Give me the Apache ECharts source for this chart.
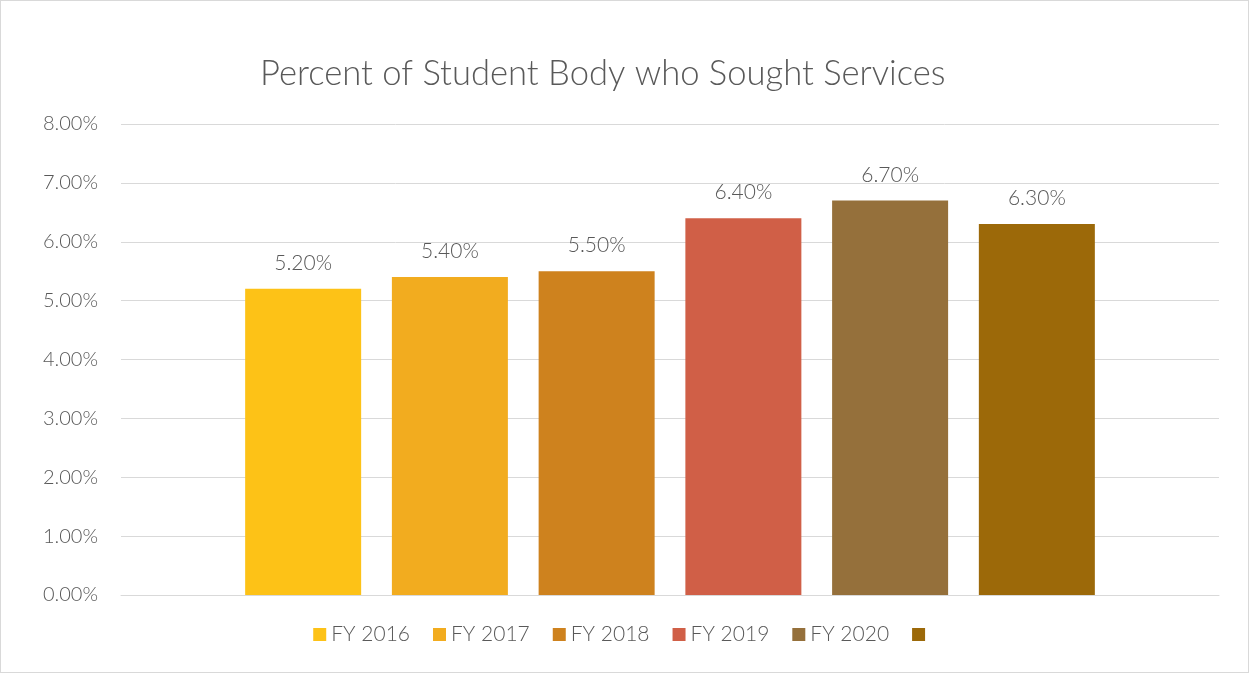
<!DOCTYPE html>
<html>
<head>
<meta charset="utf-8">
<script src="https://cdn.jsdelivr.net/npm/echarts@6/dist/echarts.min.js"></script>
<style>
  html, body { margin: 0; padding: 0; background: #fff; }
  #chart { width: 1249px; height: 673px; box-sizing: border-box; border: 1px solid #d9d9d9; }
</style>
</head>
<body>
<div id="chart"></div>
<script>
var seriesNames = ['FY 2016', 'FY 2017', 'FY 2018', 'FY 2019', 'FY 2020', ' '];
var seriesValues = [5.2, 5.4, 5.5, 6.4, 6.7, 6.3];
var barColors = ['#fdc217', '#f2ac1f', '#ce821e', '#d05f47', '#95703b', '#9c6909'];
var categories = [''];

var font = 'Lato';
var grey = '#595959';

var series = seriesNames.map(function (name, i) {
	return {
		name: name,
		type: 'bar',
		data: [seriesValues[i]],
		barWidth: 116,
		barGap: '26.5%',
		itemStyle: { color: barColors[i] },
		label: {
			show: true,
			position: 'top',
			distance: 15,
			color: grey,
			fontFamily: font,
			fontWeight: 300,
			fontSize: 21,
			formatter: function (p) { return p.value.toFixed(2) + '%'; }
		}
	};
});

var chart = echarts.init(document.getElementById('chart'));
chart.setOption({
	animation: false,
	title: {
		text: 'Percent of Student Body who Sought Services',
		left: 254,
		top: 50,
		textStyle: { color: grey, fontFamily: font, fontSize: 34.6, fontWeight: 300 }
	},
	legend: {
		bottom: 22,
		left: 'center',
		icon: 'rect',
		itemWidth: 13,
		itemHeight: 13,
		itemGap: 23,
		data: seriesNames,
		textStyle: { color: grey, fontFamily: font, fontWeight: 300, fontSize: 21 }
	},
	grid: { left: 120, right: 29, top: 123, bottom: 77, containLabel: false },
	xAxis: {
		type: 'category',
		data: categories,
		axisLine: { lineStyle: { color: '#d9d9d9', width: 1 } },
		axisTick: { show: false },
		axisLabel: { show: false }
	},
	yAxis: {
		type: 'value',
		min: 0,
		max: 8,
		interval: 1,
		axisLine: { show: false },
		axisTick: { show: false },
		splitLine: { lineStyle: { color: '#d9d9d9', width: 1 } },
		axisLabel: {
			color: grey,
			fontFamily: font,
			fontWeight: 300,
			fontSize: 20,
			margin: 23,
			formatter: function (v) { return v.toFixed(2) + '%'; }
		}
	},
	series: series
});
</script>
</body>
</html>
